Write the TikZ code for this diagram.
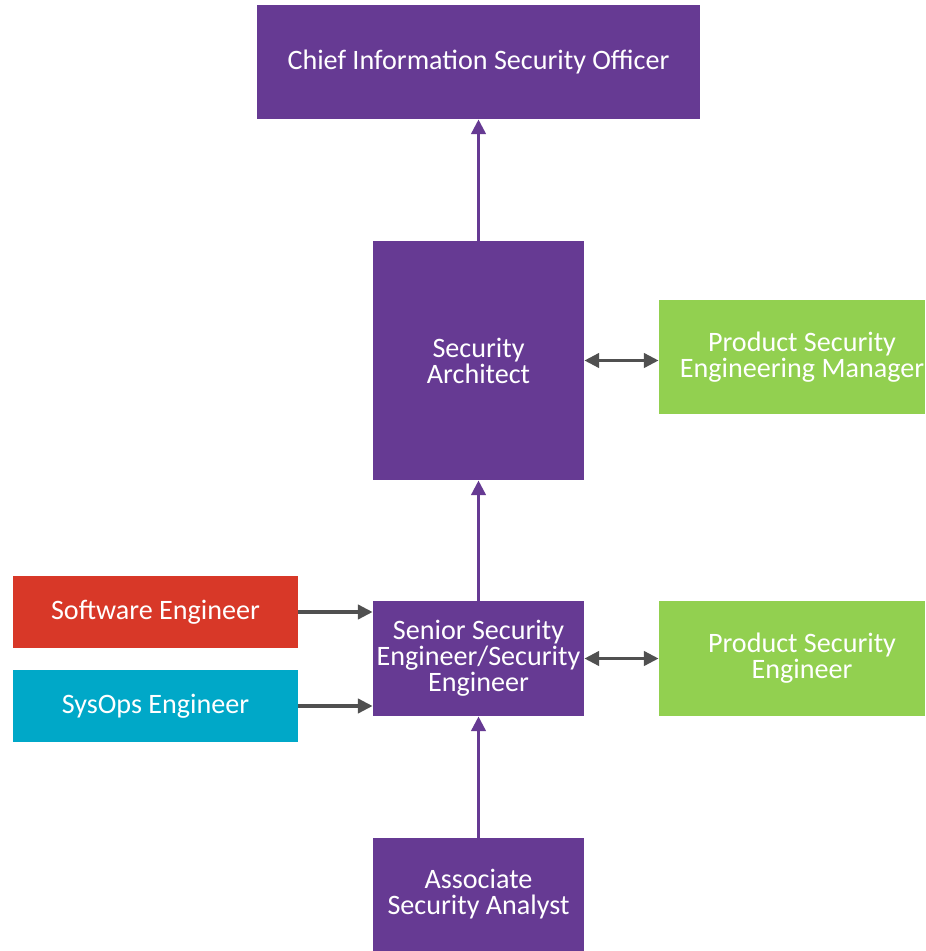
\documentclass[tikz,border=0pt]{standalone}
\usepackage{fontspec}
\setmainfont{Carlito}
\usetikzlibrary{arrows.meta}
\usepackage{xcolor}

\definecolor{rolepurple}{HTML}{663A93}
\definecolor{rolegreen}{HTML}{92D050}
\definecolor{rolered}{HTML}{D83828}
\definecolor{roleteal}{HTML}{00A8C8}
\definecolor{linkgrey}{HTML}{505050}

\begin{document}
\begin{tikzpicture}[x=0.025cm, y=-0.025cm,
  role/.style={text=white, align=center, inner sep=0pt,
    font=\fontsize{20}{18.5}\selectfont},
  up/.style={rolepurple, line width=2.8pt, -{Triangle[length=10.5pt,width=10pt]}},
  side/.style={linkgrey, line width=2.8pt, -{Triangle[length=10.5pt,width=10pt]}},
  both/.style={linkgrey, line width=2.8pt, {Triangle[length=10.5pt,width=10pt]}-{Triangle[length=10.5pt,width=10pt]}}]
\useasboundingbox (0,0) rectangle (925,951);

% chain of security roles
\node[role, fill=rolepurple, minimum width=11.075cm, minimum height=2.85cm] (ciso) at (478.5,62) {Chief Information Security Officer};
\node[role, fill=rolepurple, minimum width=5.275cm, minimum height=5.975cm] (arch) at (478.5,360.5) {Security\\Architect};
\node[role, fill=rolepurple, minimum width=5.275cm, minimum height=2.875cm] (senior) at (478.5,658.5) {Senior Security\\Engineer/Security\\Engineer};
\node[role, fill=rolepurple, minimum width=5.275cm, minimum height=2.825cm] (assoc) at (478.5,894.5) {Associate\\Security Analyst};

% product security side, text sits a bit right of centre
\node[fill=rolegreen, minimum width=6.65cm, minimum height=2.85cm,
  label={[role, xshift=0.25cm]center:{Product Security\\Engineering Manager}}] (psem) at (792,357) {};
\node[fill=rolegreen, minimum width=6.65cm, minimum height=2.875cm,
  label={[role, xshift=0.25cm]center:{Product Security\\Engineer}}] (pse) at (792,658.5) {};

% feeder roles
\node[role, fill=rolered, minimum width=7.125cm, minimum height=1.8cm] (soft) at (155.5,612) {Software Engineer};
\node[role, fill=roleteal, minimum width=7.125cm, minimum height=1.8cm] (sysops) at (155.5,706) {SysOps Engineer};

\draw[up] (assoc.north) -- (senior.south);
\draw[up] (senior.north) -- (arch.south);
\draw[up] (arch.north) -- (ciso.south);

\draw[side] (soft.east) -- (soft.east -| senior.west);
\draw[side] (sysops.east) -- (sysops.east -| senior.west);

\draw[both] (arch.east) -- (arch.east -| psem.west);
\draw[both] (senior.east) -- (pse.west);
\end{tikzpicture}
\end{document}
